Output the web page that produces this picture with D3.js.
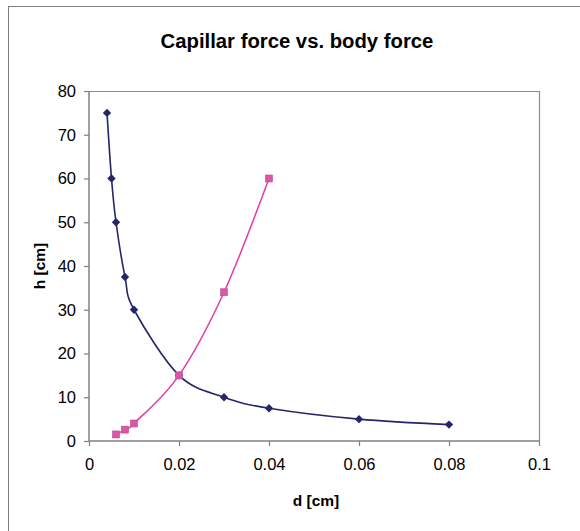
<!DOCTYPE html>
<html>
<head>
<meta charset="utf-8">
<script src="https://cdn.jsdelivr.net/npm/d3@7.9.0/dist/d3.min.js"></script>
<style>
  body { margin: 0; background: #fff; }
  svg { display: block; font-family: "Liberation Sans", Arial, sans-serif; }
</style>
</head>
<body>
<svg id="chart" width="580" height="531"></svg>
<script>
// capillary rise (blue diamonds)
const capD = [0.004, 0.005, 0.006, 0.008, 0.01, 0.02, 0.03, 0.04, 0.06, 0.08];
const capH = [75, 60, 50, 37.5, 30, 15, 10, 7.5, 5, 3.75];
// body force (pink squares)
const bodyD = [0.006, 0.008, 0.01, 0.02, 0.03, 0.04];
const bodyH = [1.5, 2.6, 4, 15, 34, 60];
const xTicks = [0, 0.02, 0.04, 0.06, 0.08, 0.1];
const yTicks = [0, 10, 20, 30, 40, 50, 60, 70, 80];

const svg = d3.select('#chart');
const plot = { left: 89, right: 539, top: 91, bottom: 441 };

const x = d3.scaleLinear().domain([0, 0.1]).range([plot.left, plot.right]);
const y = d3.scaleLinear().domain([0, 80]).range([plot.bottom, plot.top]);

// outer frame (runs off the right and bottom edges)
svg.append('rect')
  .attr('x', 8.5).attr('y', 6.5)
  .attr('width', 600).attr('height', 600)
  .attr('fill', 'none').attr('stroke', '#7f7f7f').attr('stroke-width', 1);

// title
svg.append('text')
  .attr('x', 297).attr('y', 48)
  .attr('text-anchor', 'middle')
  .attr('font-size', 20.3).attr('font-weight', 'bold')
  .text('Capillar force vs. body force');

// plot frame top + right
svg.append('path')
  .attr('d', `M${plot.left},${plot.top + 0.5}H${plot.right + 0.5}V${plot.bottom}`)
  .attr('fill', 'none').attr('stroke', '#8c8c8c').attr('stroke-width', 1.2);

// axes
const xAxis = d3.axisBottom(x).tickValues(xTicks).tickSize(5).tickPadding(12)
  .tickFormat(d => d === 0 ? '0' : String(+d.toFixed(2)));
const yAxis = d3.axisLeft(y).tickValues(yTicks).tickSize(5).tickPadding(8);

const gx = svg.append('g').attr('transform', `translate(0,${plot.bottom})`).call(xAxis);
const gy = svg.append('g').attr('transform', `translate(${plot.left},0)`).call(yAxis);
[gx, gy].forEach(g => {
  g.select('.domain').attr('stroke', '#808080').attr('stroke-width', 1.5);
  g.selectAll('.tick line').attr('stroke', '#808080').attr('stroke-width', 1.2);
  g.selectAll('.tick text').attr('font-size', 16.5).attr('fill', '#000')
    .attr('font-family', '"Liberation Sans", Arial, sans-serif');
});
gx.select('.domain').attr('d', `M${plot.left},0H${plot.right}`);
gy.select('.domain').attr('d', `M0,${plot.top}V${plot.bottom}`);

// axis titles
svg.append('text')
  .attr('x', x(0.05) + 2).attr('y', 506)
  .attr('text-anchor', 'middle')
  .attr('font-size', 15.5).attr('font-weight', 'bold')
  .text('d [cm]');
svg.append('text')
  .attr('transform', `translate(45,${y(40)}) rotate(-90)`)
  .attr('text-anchor', 'middle')
  .attr('font-size', 15.5).attr('font-weight', 'bold')
  .text('h [cm]');

const line = d3.line()
  .x(d => x(d[0])).y(d => y(d[1]))
  .curve(d3.curveCardinal.tension(0));

const capData = capD.map((d, i) => [d, capH[i]]);
const bodyData = bodyD.map((d, i) => [d, bodyH[i]]);

const navy = '#25256a';
const pink = '#e33ca3';

svg.append('path').datum(bodyData)
  .attr('d', line).attr('fill', 'none')
  .attr('stroke', pink).attr('stroke-width', 1.5);
svg.append('path').datum(capData)
  .attr('d', line).attr('fill', 'none')
  .attr('stroke', navy).attr('stroke-width', 1.6);

// markers: diamonds first, squares on top
const r = 4.2;
svg.selectAll('.dm').data(capData).join('path')
  .attr('class', 'dm')
  .attr('transform', d => `translate(${x(d[0])},${y(d[1])})`)
  .attr('d', `M0,${-r}L${r},0L0,${r}L${-r},0Z`)
  .attr('fill', navy);

svg.selectAll('.sq').data(bodyData).join('rect')
  .attr('class', 'sq')
  .attr('x', d => x(d[0]) - 3.5).attr('y', d => y(d[1]) - 3.5)
  .attr('width', 7).attr('height', 7)
  .attr('fill', '#d957a6').attr('stroke', '#c4489a').attr('stroke-width', 0.6);
</script>
</body>
</html>
